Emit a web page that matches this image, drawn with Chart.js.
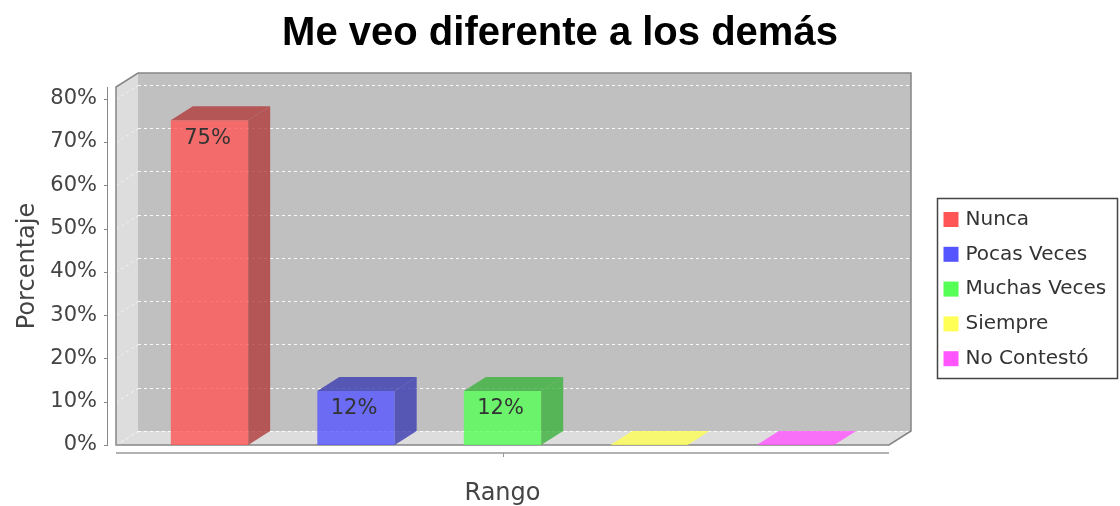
<!DOCTYPE html>
<html lang="es">
<head>
    <meta charset="UTF-8">
    <title>Me veo diferente a los demás</title>
    <script src="https://cdn.jsdelivr.net/npm/chart.js"></script>
    <style>
        html, body { margin: 0; padding: 0; background: #fff; }
        #app { width: 1120px; height: 506px; }
    </style>
</head>
<body>
    <div id="app">
        <canvas id="grafico" width="1120" height="506"></canvas>
    </div>
    <script>
        const rangos = ['Nunca', 'Pocas Veces', 'Muchas Veces', 'Siempre', 'No Contestó'];
        const porcentajes = [75, 12.5, 12.5, 0, 0];
        const categorias = [''];
        const marcasY = [0, 10, 20, 30, 40, 50, 60, 70, 80];

        const colores = ['#ff5555', '#5555ff', '#55ff55', '#ffff55', '#ff55ff'];
        const prof = { dx: 22, dy: 14 };

        function rgba(hex, a, f)
        {
            f = f || 1;
            const r = Math.floor(parseInt(hex.substr(1, 2), 16) * f);
            const g = Math.floor(parseInt(hex.substr(3, 2), 16) * f);
            const b = Math.floor(parseInt(hex.substr(5, 2), 16) * f);
            return `rgba(${r},${g},${b},${a})`;
        }

        // redondeo tipo DecimalFormat (half-even): 12.5 -> 12
        function etiqueta(v)
        {
            const p = Math.floor(v);
            const d = v - p;
            let r = p;
            if (d > 0.5 || (d === 0.5 && p % 2 === 1)) r = p + 1;
            return r + '%';
        }

        function poly(ctx, pts, fill)
        {
            ctx.beginPath();
            ctx.moveTo(pts[0][0], pts[0][1]);
            for (let i = 1; i < pts.length; i++) ctx.lineTo(pts[i][0], pts[i][1]);
            ctx.closePath();
            ctx.fillStyle = fill;
            ctx.fill();
        }

        const efecto3d = {
            id: 'efecto3d',
            beforeDatasetsDraw(chart)
            {
                const { ctx, chartArea: a, scales: { x, y } } = chart;
                const L = a.left, R = a.right, T = a.top, B = a.bottom;
                const dx = prof.dx, dy = prof.dy;
                ctx.save();

                ctx.fillStyle = '#c0c0c0';
                ctx.fillRect(L + dx, T - dy, R - L, B - T);
                poly(ctx, [[L, T], [L + dx, T - dy], [L + dx, B - dy], [L, B]], '#dddddd');
                poly(ctx, [[L, B], [L + dx, B - dy], [R + dx, B - dy], [R, B]], '#dddddd');

                ctx.lineWidth = 1;
                ctx.setLineDash([3, 3]);
                y.ticks.forEach(t =>
                {
                    const py = Math.round(y.getPixelForValue(t.value)) + 0.5;
                    ctx.strokeStyle = 'rgba(255,255,255,0.9)';
                    ctx.beginPath();
                    ctx.moveTo(L + dx, py - dy);
                    ctx.lineTo(R + dx, py - dy);
                    ctx.stroke();
                    ctx.strokeStyle = 'rgba(255,255,255,0.6)';
                    ctx.beginPath();
                    ctx.moveTo(L, py);
                    ctx.lineTo(L + dx, py - dy);
                    ctx.stroke();
                });
                ctx.setLineDash([]);

                // contorno del area
                ctx.strokeStyle = '#858585';
                ctx.lineWidth = 1.5;
                ctx.beginPath();
                ctx.moveTo(L, B);
                ctx.lineTo(L, T);
                ctx.lineTo(L + dx, T - dy);
                ctx.lineTo(R + dx, T - dy);
                ctx.lineTo(R + dx, B - dy);
                ctx.lineTo(R, B);
                ctx.closePath();
                ctx.stroke();

                // eje Y con marcas
                ctx.strokeStyle = '#888';
                ctx.lineWidth = 1;
                ctx.beginPath();
                ctx.moveTo(L - 8.5, T);
                ctx.lineTo(L - 8.5, B);
                y.ticks.forEach(t =>
                {
                    const py = Math.round(y.getPixelForValue(t.value)) + 0.5;
                    ctx.moveTo(L - 12, py);
                    ctx.lineTo(L - 8, py);
                });
                ctx.stroke();

                // eje X con marca de categoria
                ctx.strokeStyle = '#999';
                ctx.lineWidth = 1.5;
                ctx.beginPath();
                ctx.moveTo(L, B + 8);
                ctx.lineTo(R, B + 8);
                ctx.stroke();
                ctx.lineWidth = 1;
                ctx.beginPath();
                categorias.forEach((c, i) =>
                {
                    const px = Math.round(x.getPixelForValue(i)) + 0.5;
                    ctx.moveTo(px, B + 8);
                    ctx.lineTo(px, B + 12);
                });
                ctx.stroke();
                ctx.restore();
            },
            afterDatasetsDraw(chart)
            {
                const ctx = chart.ctx;
                const dx = prof.dx, dy = prof.dy;
                ctx.save();
                chart.data.datasets.forEach((ds, i) =>
                {
                    const meta = chart.getDatasetMeta(i);
                    meta.data.forEach((bar, j) =>
                    {
                        const p = bar.getProps(['x', 'y', 'base', 'width'], true);
                        const x0 = p.x - p.width / 2, x1 = p.x + p.width / 2;
                        const v = ds.data[j];
                        if (v > 0)
                        {
                            const osc = rgba(colores[i], 0.8, 0.7);
                            poly(ctx, [[x0, p.y], [x0 + dx, p.y - dy], [x1 + dx, p.y - dy], [x1, p.y]], osc);
                            poly(ctx, [[x1, p.y], [x1 + dx, p.y - dy], [x1 + dx, p.base - dy], [x1, p.base]], osc);
                            ctx.fillStyle = '#333';
                            ctx.font = '21px "DejaVu Sans"';
                            ctx.textAlign = 'center';
                            ctx.textBaseline = 'middle';
                            ctx.fillText(etiqueta(v), p.x - 2, p.y + 18);
                        }
                        else
                        {
                            poly(ctx, [[x0, p.y], [x0 + dx, p.y - dy], [x1 + dx, p.y - dy], [x1, p.y]], rgba(colores[i], 0.8));
                        }
                    });
                });
                ctx.restore();
            },
            afterDraw(chart)
            {
                const ctx = chart.ctx;
                const bx = chart.chartArea.right + 48.5, by = 198.5;
                ctx.save();
                ctx.strokeStyle = '#444';
                ctx.lineWidth = 1.5;
                ctx.strokeRect(bx, by, 180, 180);
                ctx.font = '20px "DejaVu Sans"';
                ctx.textAlign = 'left';
                ctx.textBaseline = 'middle';
                chart.data.datasets.forEach((ds, i) =>
                {
                    const cy = by + 21 + i * 34.8;
                    ctx.fillStyle = colores[i];
                    ctx.fillRect(bx + 6, cy - 7.5, 15, 15);
                    ctx.fillStyle = '#333';
                    ctx.fillText(ds.label, bx + 28, cy);
                });
                ctx.restore();
            }
        };

        Chart.defaults.font.family = '"DejaVu Sans"';

        const ctx = document.getElementById('grafico').getContext('2d');
        new Chart(ctx,
        {
            type: 'bar',
            data:
            {
                labels: categorias,
                datasets: rangos.map((r, i) => ({
                    label: r,
                    data: [porcentajes[i]],
                    backgroundColor: rgba(colores[i], 0.8),
                    borderWidth: 0,
                    yAxisID: 'y'
                }))
            },
            options:
            {
                responsive: false,
                animation: false,
                categoryPercentage: 0.9476,
                barPercentage: 0.528,
                layout: { padding: 0 },
                plugins:
                {
                    legend: { display: false },
                    tooltip: { enabled: false },
                    title:
                    {
                        display: true,
                        text: 'Me veo diferente a los demás',
                        color: '#000',
                        font: { family: '"Liberation Sans"', size: 40, weight: 'bold', lineHeight: 1.2 },
                        padding: { top: 10, bottom: 29 }
                    }
                },
                scales:
                {
                    x:
                    {
                        grid: { display: false, drawTicks: false },
                        border: { display: false },
                        ticks: { display: false },
                        title:
                        {
                            display: true,
                            text: 'Rango',
                            color: '#444',
                            font: { size: 24, lineHeight: 1 },
                            padding: { top: 0, bottom: 0 }
                        },
                        afterFit(s) { s.height = 61; }
                    },
                    y:
                    {
                        min: 0,
                        max: 82.7,
                        grid: { display: false, drawTicks: false },
                        border: { display: false },
                        afterBuildTicks(s) { s.ticks = marcasY.map(v => ({ value: v })); },
                        ticks:
                        {
                            color: '#444',
                            font: { size: 21 },
                            padding: 19,
                            callback: v => v + '%'
                        },
                        title:
                        {
                            display: true,
                            text: 'Porcentaje',
                            color: '#444',
                            font: { size: 24, lineHeight: 1.2 },
                            padding: { top: 13, bottom: 0 }
                        },
                        afterFit(s) { s.width = 116; }
                    },
                    y2:
                    {
                        type: 'linear',
                        position: 'right',
                        grid: { display: false, drawTicks: false },
                        border: { display: false },
                        ticks: { display: false },
                        afterFit(s) { s.width = 231; }
                    }
                }
            },
            plugins: [efecto3d]
        });
    </script>
</body>
</html>
